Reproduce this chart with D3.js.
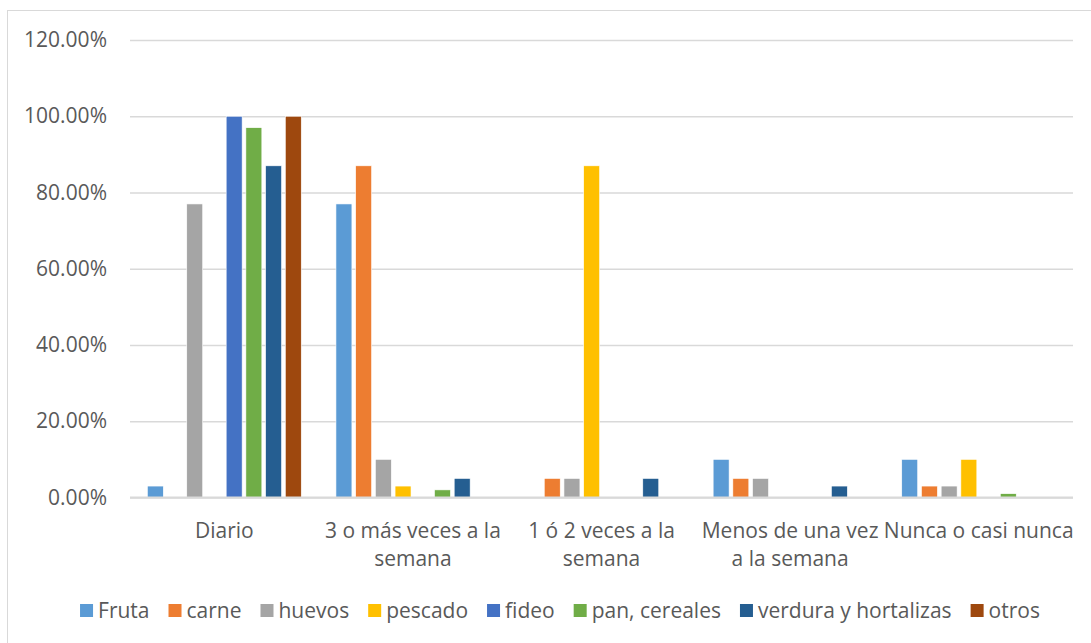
<!DOCTYPE html>
<html>
<head>
<meta charset="utf-8">
<script src="https://cdn.jsdelivr.net/npm/d3@7"></script>
<style>
  html, body { margin: 0; padding: 0; background: #fff; }
  svg { display: block; }
  text { font-family: "Open Sans", "Noto Sans", sans-serif; fill: #595959; }
</style>
</head>
<body>
<svg id="chart" width="1091" height="643"></svg>
<script>
// Frequency of consumption per food group
const categories = [
  ["Diario"],
  ["3 o más veces a la", "semana"],
  ["1 ó 2 veces a la", "semana"],
  ["Menos de una vez", "a la semana"],
  ["Nunca o casi nunca"]
];
const seriesNames = ["Fruta", "carne", "huevos", "pescado", "fideo", "pan, cereales", "verdura y hortalizas", "otros"];
const seriesColors = ["#5B9BD5", "#ED7D31", "#A5A5A5", "#FFC000", "#4472C4", "#70AD47", "#255E91", "#9E480E"];

const fruta    = [0.03, 0.77, 0.00, 0.10, 0.10];
const carne    = [0.00, 0.87, 0.05, 0.05, 0.03];
const huevos   = [0.77, 0.10, 0.05, 0.05, 0.03];
const pescado  = [0.00, 0.03, 0.87, 0.00, 0.10];
const fideo    = [1.00, 0.00, 0.00, 0.00, 0.00];
const pan      = [0.97, 0.02, 0.00, 0.00, 0.01];
const verdura  = [0.87, 0.05, 0.05, 0.03, 0.00];
const otros    = [1.00, 0.00, 0.00, 0.00, 0.00];

const yTicks = [0, 0.2, 0.4, 0.6, 0.8, 1.0, 1.2];

const seriesValues = [fruta, carne, huevos, pescado, fideo, pan, verdura, otros];

const svg = d3.select("#chart");
const plot = { left: 130, right: 1073, top: 40, bottom: 497.5 };

// chart area frame
svg.append("rect")
  .attr("x", 7.5).attr("y", 10.5)
  .attr("width", 1200).attr("height", 700)
  .attr("fill", "none").attr("stroke", "#d9d9d9").attr("stroke-width", 1);

const x0 = d3.scaleBand()
  .domain(d3.range(categories.length))
  .range([plot.left, plot.right])
  .padding(0);

const x1 = d3.scaleBand()
  .domain(seriesNames)
  .range([0, x0.bandwidth()])
  .paddingInner(0.19)
  .paddingOuter(0.88);

const y = d3.scaleLinear().domain([0, 1.2]).range([plot.bottom, plot.top]);

// value axis with gridlines
const yAxis = d3.axisLeft(y)
  .tickValues(yTicks)
  .tickFormat(d3.format(".2%"))
  .tickSize(-(plot.right - plot.left))
  .tickPadding(23);

const gy = svg.append("g")
  .attr("transform", `translate(${plot.left},0)`)
  .call(yAxis);
gy.select(".domain").remove();
gy.selectAll(".tick line")
  .attr("stroke", "#d9d9d9")
  .attr("stroke-width", 1.3);
gy.selectAll(".tick text")
  .style("font-size", "21px")
  .attr("fill", "#595959");

// bars
const groups = svg.append("g").selectAll("g")
  .data(categories)
  .join("g")
  .attr("transform", (d, i) => `translate(${x0(i)},0)`);

groups.selectAll("rect")
  .data((d, i) => seriesNames.map((s, k) => ({ s, k, v: seriesValues[k][i] })))
  .join("rect")
  .filter(d => d.v > 0)
  .attr("x", d => x1(d.s))
  .attr("width", x1.bandwidth())
  .attr("y", d => y(d.v))
  .attr("height", d => y(0) - y(d.v))
  .attr("fill", d => seriesColors[d.k])
  .attr("stroke", "#ffffff")
  .attr("stroke-width", 0.6);

// category axis line
svg.append("line")
  .attr("x1", plot.left).attr("x2", plot.right)
  .attr("y1", y(0)).attr("y2", y(0))
  .attr("stroke", "#d9d9d9").attr("stroke-width", 2);

// category labels
const xLabels = svg.append("g").selectAll("text")
  .data(categories)
  .join("text")
  .attr("text-anchor", "middle")
  .style("font-size", "21px")
  .attr("transform", (d, i) => `translate(${x0(i) + x0.bandwidth() / 2},0)`);

xLabels.selectAll("tspan")
  .data(d => d)
  .join("tspan")
  .attr("x", 0)
  .attr("y", (d, j) => 537.5 + j * 28)
  .text(d => d);

// legend
const legend = svg.append("g");
const items = legend.selectAll("g")
  .data(seriesNames)
  .join("g");
items.append("rect")
  .attr("width", 13).attr("height", 13)
  .attr("y", -6)
  .attr("fill", (d, i) => seriesColors[i]);
items.append("text")
  .attr("x", 18)
  .attr("y", 8)
  .style("font-size", "21px")
  .text(d => d);

let cursor = 0;
items.each(function () {
  const w = d3.select(this).select("text").node().getComputedTextLength();
  d3.select(this).attr("transform", `translate(${cursor},0)`);
  cursor += 18 + w + 19;
});
const legendWidth = cursor - 19;
legend.attr("transform", `translate(${560 - legendWidth / 2},610)`);
</script>
</body>
</html>
